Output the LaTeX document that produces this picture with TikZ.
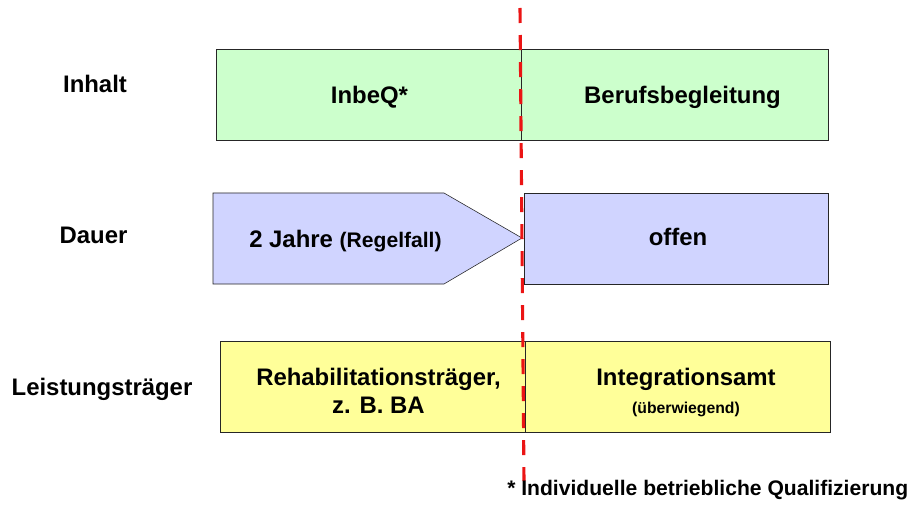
\documentclass[tikz,border=0pt]{standalone}
\usepackage{fontspec}
\setmainfont{Liberation Sans}
\usetikzlibrary{positioning}

\definecolor{inhaltgreen}{RGB}{204,255,204}
\definecolor{dauerblue}{RGB}{208,212,255}
\definecolor{traegeryellow}{RGB}{255,255,153}
\definecolor{cutred}{RGB}{235,20,20}

\begin{document}
\begin{tikzpicture}[x=0.025cm,y=-0.025cm,
    font=\bfseries\fontsize{17}{20}\selectfont,
    rowbox/.style={draw=black!85,thin,anchor=north west,inner sep=0pt,
      minimum height=2.275cm},
    boxtext/.style={anchor=base,inner sep=0pt},
    cutline/.style={draw=cutred,line width=2.2pt,dash pattern=on 0.375cm off 0.3cm}]

  \useasboundingbox (0,0) rectangle (913,511);

  % Zeilenbeschriftungen
  \node[boxtext] (inhalt)  at (95,93)   {Inhalt};
  \node[boxtext] (dauer)   at (93.5,244) {Dauer};
  \node[boxtext] (traeger) at (102,395) {Leistungstr\"ager};

  % Inhalt
  \node[rowbox,fill=inhaltgreen,minimum width=7.625cm] (inbeq) at (216,49) {};
  \node[rowbox,fill=inhaltgreen,minimum width=7.675cm] (beruf) at (521,49) {};
  \node[boxtext] (inbeqtext) at (369.5,104) {InbeQ*};
  \node[boxtext] (beruftext) at (682.5,104) {Berufsbegleitung};

  % Dauer
  \draw[black!85,thin,fill=dauerblue] (213,193) -- (444,193) -- (522,238)
    -- (444,284) -- (213,284) -- cycle;
  \node[rowbox,fill=dauerblue,minimum width=7.6cm] (offen) at (524,193) {};
  \node[boxtext,anchor=base west] (jahre) at (249,247)
    {2 Jahre {\fontsize{15}{17}\selectfont(Regelfall)}};
  \node[boxtext] (offentext) at (678,245) {offen};

  % Leistungstraeger
  \node[rowbox,fill=traegeryellow,minimum width=7.625cm] (reha) at (220,341) {};
  \node[rowbox,fill=traegeryellow,minimum width=7.625cm] (integ) at (525,341) {};
  \node[boxtext] (rehatext) at (378.5,385) {Rehabilitationstr\"ager,};
  \node[boxtext] (batext)   at (378.5,413) {z. B. BA};
  \node[boxtext] (integtext) at (686,385) {Integrationsamt};
  \node[boxtext,font=\bfseries\fontsize{11.2}{13}\selectfont] (ueberw) at (686,413)
    {(\"uberwiegend)};

  % Trennlinie
  \coordinate (cuttop) at (520,8);
  \coordinate (cutbot) at (524,481);
  \draw[cutline] (cuttop) -- (cutbot);

  \node[boxtext,anchor=base west,font=\bfseries\fontsize{15}{17}\selectfont] (fussnote)
    at (507,495) {* Individuelle betriebliche Qualifizierung};
\end{tikzpicture}
\end{document}
